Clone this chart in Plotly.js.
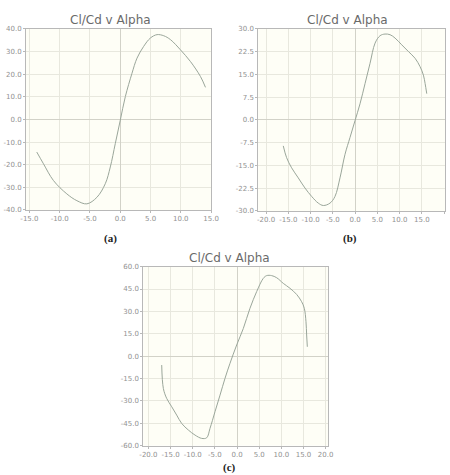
<!DOCTYPE html>
<html>
<head>
<meta charset="utf-8">
<script src="https://cdn.plot.ly/plotly-3.0.1.min.js"></script>
<style>html,body{margin:0;padding:0;background:#fff;}#chart{width:450px;height:475px;}</style>
</head>
<body>
<div id="chart"></div>
<script>
// ---- data ----
var alphaA = [-13.79,-12.68,-11.03,-8.82,-7.16,-5.51,-3.85,-2.47,-1.64,-0.82,0.01,0.84,1.94,2.77,3.87,4.98,6.08,7.19,8.29,9.94,11.6,13.25,14.08];
var clcdA  = [-14.4,-19.6,-27.0,-32.9,-35.9,-37.3,-34.4,-28.4,-21.0,-10.7,-0.3,10.1,20.4,27.1,32.3,36.0,37.5,37.0,35.3,30.8,25.6,19.0,14.2];

var alphaB = [-16.14,-15.39,-14.27,-12.77,-11.27,-9.77,-8.27,-7.14,-5.65,-4.52,-3.40,-2.27,-1.15,-0.02,1.10,2.23,3.35,4.48,5.60,6.72,7.85,8.97,10.47,11.97,13.47,14.59,15.34,15.72,16.09];
var clcdB  = [-8.56,-12.44,-15.78,-19.11,-22.44,-25.22,-27.44,-28.22,-27.44,-25.22,-19.11,-11.33,-5.78,-0.22,5.33,12.0,18.67,25.33,27.78,28.33,28.11,27.0,24.78,22.56,20.33,17.56,14.78,12.0,8.67];

var alphaC = [-17.0,-16.63,-15.88,-14.74,-13.62,-12.49,-10.99,-9.48,-7.98,-6.85,-6.10,-4.97,-3.84,-2.72,-1.59,-0.08,1.42,2.92,4.43,5.93,6.68,7.81,8.94,10.44,11.95,13.45,14.58,15.18,15.56,15.71,15.86];
var clcdC  = [-5.95,-21.6,-28.3,-33.9,-39.5,-45.1,-49.5,-52.9,-55.1,-54.7,-48.4,-37.2,-26.1,-14.9,-4.8,7.5,18.6,32.1,43.3,52.2,54.0,54.0,52.6,48.8,45.5,41.4,36.5,32.1,23.1,14.2,6.3];

var xTicksA = [-15,-10,-5,0,5,10,15];
var yTicksA = [-40,-30,-20,-10,0,10,20,30,40];
var xTicksB = [-20,-15,-10,-5,0,5,10,15,20];
var yTicksB = [-30,-22.5,-15,-7.5,0,7.5,15,22.5,30];
var xTicksC = [-20,-15,-10,-5,0,5,10,15,20];
var yTicksC = [-60,-45,-30,-15,0,15,30,45,60];

var chartTitle = "Cl/Cd v Alpha";
var captions = ["(a)", "(b)", "(c)"];

// ---- styling helpers ----
var lineColor = "#9aa69a";
function fmt(v){ return v.toFixed(1); }
function axis(domain, range, ticks, anchor){
  return {
    domain: domain, range: range, anchor: anchor,
    tickvals: ticks, ticktext: ticks.map(fmt),
    tickfont: {size: 7, color: "#919191", family: "DejaVu Sans"},
    ticks: "outside", ticklen: 2, tickcolor: "#b8b8b8",
    showgrid: true, gridcolor: "#e8e8de", gridwidth: 1,
    zeroline: true, zerolinecolor: "#d2d2c8", zerolinewidth: 1,
    showline: true, linecolor: "#b8b8b8", linewidth: 1, mirror: true,
    fixedrange: true
  };
}

var traces = [
  {x: alphaA, y: clcdA, xaxis: "x", yaxis: "y", type: "scatter", mode: "lines",
   line: {color: lineColor, width: 1, shape: "spline"}},
  {x: alphaB, y: clcdB, xaxis: "x2", yaxis: "y2", type: "scatter", mode: "lines",
   line: {color: lineColor, width: 1, shape: "spline"}},
  {x: alphaC, y: clcdC, xaxis: "x3", yaxis: "y3", type: "scatter", mode: "lines",
   line: {color: lineColor, width: 1, shape: "spline"}}
];

var titleFont = {size: 12, color: "#6a6a6a", family: "DejaVu Sans"};
var capFont = {size: 11, color: "#222", family: "Liberation Serif"};

var layout = {
  width: 450, height: 475,
  margin: {l: 0, r: 0, t: 0, b: 0},
  paper_bgcolor: "#ffffff",
  plot_bgcolor: "#fefef6",
  showlegend: false,
  xaxis:  axis([0.058, 0.469], [-15.55, 15.0], xTicksA, "y"),
  yaxis:  axis([0.558, 0.939], [-40, 40], yTicksA, "x"),
  xaxis2: axis([0.574, 0.989], [-21.75, 20.2], xTicksB, "y2"),
  yaxis2: axis([0.556, 0.939], [-30, 30], yTicksB, "x2"),
  xaxis3: axis([0.3185, 0.7296], [-21.15, 20.6], xTicksC, "y3"),
  yaxis3: axis([0.0617, 0.4386], [-60, 60], yTicksC, "x3"),
  annotations: [
    {text: chartTitle, x: 110/450, y: 1-20/475, xref: "paper", yref: "paper", showarrow: false, font: titleFont, xanchor: "center", yanchor: "middle"},
    {text: chartTitle, x: 347/450, y: 1-20/475, xref: "paper", yref: "paper", showarrow: false, font: titleFont, xanchor: "center", yanchor: "middle"},
    {text: chartTitle, x: 230/450, y: 1-258/475, xref: "paper", yref: "paper", showarrow: false, font: titleFont, xanchor: "center", yanchor: "middle"},
    {text: "<b>" + captions[0] + "</b>", x: 110/450, y: 1-238/475, xref: "paper", yref: "paper", showarrow: false, font: capFont, xanchor: "center", yanchor: "middle"},
    {text: "<b>" + captions[1] + "</b>", x: 350/450, y: 1-238/475, xref: "paper", yref: "paper", showarrow: false, font: capFont, xanchor: "center", yanchor: "middle"},
    {text: "<b>" + captions[2] + "</b>", x: 230/450, y: 1-467/475, xref: "paper", yref: "paper", showarrow: false, font: capFont, xanchor: "center", yanchor: "middle"}
  ]
};

Plotly.newPlot("chart", traces, layout, {displayModeBar: false, staticPlot: true});
</script>
</body>
</html>
